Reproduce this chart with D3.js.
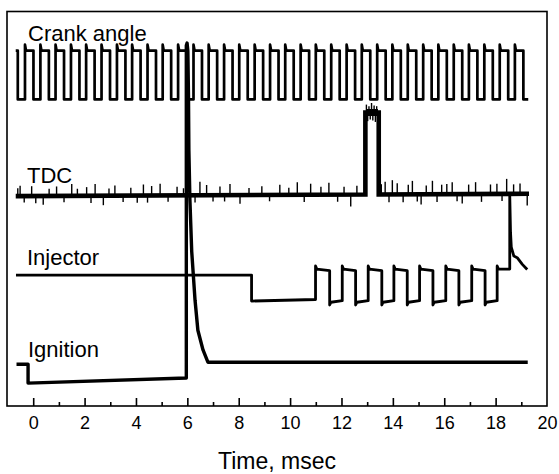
<!DOCTYPE html>
<html>
<head>
<meta charset="utf-8">
<script src="https://cdn.jsdelivr.net/npm/d3@7"></script>
<style>
  html, body { margin: 0; padding: 0; background: #fff; }
  svg { display: block; }
  text { font-family: "Liberation Sans", Arial, Helvetica, sans-serif; fill: #000; }
</style>
</head>
<body>
<script>
// ---------------- data (time in msec, signal level in arbitrary units 0..100) ----------------
const xTicksMajor = [0, 2, 4, 6, 8, 10, 12, 14, 16, 18, 20];
const xTicksMinor = [1, 3, 5, 7, 9, 11, 13, 15, 17, 19];
const seriesLabels = ["Crank angle", "TDC", "Injector", "Ignition"];
const xTitle = "Time, msec";

// Crank angle square wave
const crankStart = -0.68, crankFirstFall = -0.60, crankEnd = 19.27;
const crankHigh = 90.1, crankLow = 77.7, crankOver = 91.6;
const crankRise = [-0.32, 0.28, 0.87, 1.47, 2.06, 2.66, 3.26, 3.85, 4.45, 5.04, 5.64, 6.24,
  6.83, 7.43, 8.02, 8.62, 9.22, 9.81, 10.41, 11.00, 11.60, 12.20, 12.79, 13.39, 13.98,
  14.58, 15.18, 15.77, 16.37, 16.96, 17.56, 18.16, 18.75];
const crankFall = [0.01, 0.61, 1.20, 1.80, 2.39, 2.99, 3.59, 4.18, 4.78, 5.37, 5.97, 6.57,
  7.16, 7.76, 8.35, 8.95, 9.55, 10.14, 10.74, 11.33, 11.93, 12.53, 13.12, 13.72, 14.31,
  14.91, 15.51, 16.10, 16.70, 17.29, 17.89, 18.49, 19.08];

// TDC
const tdcStart = -0.68, tdcEnd = 19.3;
const tdcBaseLeft = 53.2, tdcBaseRight = 53.8;
const tdcPulseRise = 12.93, tdcPulseFall = 13.45, tdcPulseLevel = 74.4;
const tdcSpikeT = [-0.60, -0.51, -0.35, -0.06, 0.10, 0.39, 0.62, 0.91, 1.20, 1.50, 1.72, 2.08,
  2.25, 2.41, 2.73, 2.95, 3.18, 3.50, 3.80, 4.05, 4.29, 4.45, 4.61, 4.94, 5.25, 5.60, 5.85,
  6.30, 6.49, 6.75, 7.00, 7.27, 7.45, 7.66, 8.05, 8.40, 8.90, 9.20, 9.60, 9.95, 10.28, 10.55,
  10.80, 11.20, 11.51, 11.85, 12.10, 12.36, 12.60, 13.55, 13.70, 13.85, 13.98, 14.17, 14.40,
  14.60, 14.76, 14.95, 15.10, 15.30, 15.54, 15.72, 15.90, 16.10, 16.31, 16.50, 16.70, 16.95,
  17.22, 17.45, 17.80, 18.05, 18.25, 18.43, 18.70, 18.95, 19.23];
const tdcSpikeV = [2.0, 2.6, -1.6, 2.5, -1.8, -2.2, 1.8, 2.4, -1.6, 3.0, 1.8, 2.2,
  -1.8, 3.0, -2.4, 1.8, 2.6, -1.6, 2.0, -1.8, 2.8, -1.8, 2.4, 3.0, -1.6, 2.2, 1.8,
  -1.8, 3.4, 2.6, -1.6, 2.2, -1.6, 2.8, -2.2, 1.8, 2.2, -1.6, 2.6, 1.8, 3.2, -1.8,
  2.8, 2.0, 3.0, -1.8, 2.0, -3.0, 2.2, 2.6, 3.2, -2.0, 3.6, 2.8, -2.0,
  2.4, 3.4, -1.8, -2.6, 2.2, 3.4, -2.0, 2.4, 2.6, 3.0, -1.8, -2.4, 2.4,
  3.0, -2.0, 2.4, 2.6, -1.8, 3.8, 2.4, 2.6, -3.0];
const tdcPulseNoiseT = [12.97, 13.02, 13.07, 13.12, 13.17, 13.22, 13.27, 13.32, 13.37, 13.42];
const tdcPulseNoiseV = [2.0, -2.2, 1.6, -1.8, 2.4, -2.0, 1.8, -2.4, 1.6, -1.6];

// Injector
const injStart = -0.67;
const injIdle = 33.2, injDropT = 8.50, injDropLevel = 26.6;
const injHigh = 34.7, injLow = 26.3;
const injRise = [10.99, 12.03, 13.04, 14.04, 15.04, 16.06, 17.07, 18.06];
const injFall = [11.54, 12.55, 13.57, 14.56, 15.56, 16.57, 17.59];
const injSpikeT = 18.55, injSpikePeak = 53.4;
const injTailT = [18.58, 18.61, 18.71, 18.84, 19.04, 19.23];
const injTailV = [44.0, 40.3, 38.0, 37.6, 35.9, 34.6];

// Ignition
const ignStart = -0.65, ignStartLevel = 10.6, ignFallT = -0.20;
const ignLowStart = 5.8, ignLowEnd = 7.1, ignRiseT = 5.96;
const ignPeakT = [5.96, 5.99, 6.02, 6.045, 6.06, 6.10, 6.17, 6.30, 6.41, 6.61, 6.80];
const ignPeakV = [91.4, 92.0, 90.0, 78.2, 64.8, 52.2, 39.2, 26.8, 19.2, 14.2, 11.1];
const ignHigh = 11.1, ignEnd = 19.25;

// ---------------- chart ----------------
const W = 559, H = 474;
const box = { left: 7, right: 547, top: 11.5, bottom: 406 };

const svg = d3.select("body").append("svg").attr("width", W).attr("height", H);
svg.append("rect").attr("width", W).attr("height", H).attr("fill", "#fff");

const x = d3.scaleLinear().domain([-1.02, 20]).range([box.left, box.right]);
const y = d3.scaleLinear().domain([0, 100]).range([box.bottom, box.top]);
const line = d3.line().x(d => x(d[0])).y(d => y(d[1]));

// crank points
const crankPts = [[crankStart, crankHigh], [crankFirstFall, crankHigh], [crankFirstFall, crankLow]];
crankRise.forEach((r, i) => {
  crankPts.push([r, crankLow], [r, crankOver], [r + 0.04, crankHigh],
    [crankFall[i], crankHigh], [crankFall[i], crankLow]);
});
crankPts.push([crankEnd, crankLow]);

// TDC points
const tdcBase = t => tdcBaseLeft + (tdcBaseRight - tdcBaseLeft) * (t - tdcStart) / (tdcEnd - tdcStart);
const tdcPts = [[tdcStart, tdcBase(tdcStart)],
  [tdcPulseRise, tdcBase(tdcPulseRise)], [tdcPulseRise, tdcPulseLevel],
  [tdcPulseFall, tdcPulseLevel], [tdcPulseFall, tdcBase(tdcPulseFall)],
  [tdcEnd, tdcBase(tdcEnd)]];
const tdcSpikes = tdcSpikeT.map((t, i) => ({ t, base: tdcBase(t), v: tdcSpikeV[i] }));
const pulseNoise = tdcPulseNoiseT.map((t, i) => ({ t, base: tdcPulseLevel, v: tdcPulseNoiseV[i] }));

// injector points
const injPts = [[injStart, injIdle], [injDropT, injIdle], [injDropT, injDropLevel], [injRise[0], injDropLevel + 0.4]];
injRise.forEach((r, i) => {
  const prevLow = injPts[injPts.length - 1][1];
  injPts.push([r, prevLow], [r, injHigh + 0.8], [r + 0.05, injHigh]);
  if (i < injFall.length) {
    injPts.push([injFall[i], injHigh - 0.4], [injFall[i], injLow - 0.7], [injFall[i] + 0.05, injLow], [injRise[i + 1], injLow + 0.4]);
  }
});
injPts.push([injSpikeT, injHigh], [injSpikeT, injSpikePeak]);
injTailT.forEach((t, i) => injPts.push([t, injTailV[i]]));

// ignition points
const ignPts = [[ignStart, ignStartLevel], [ignFallT, ignStartLevel], [ignFallT, ignLowStart],
  [ignRiseT, ignLowEnd]];
ignPeakT.forEach((t, i) => ignPts.push([t, ignPeakV[i]]));
ignPts.push([ignEnd, ignHigh]);

const g = svg.append("g");
g.append("path").datum(ignPts).attr("d", line).attr("fill", "none").attr("stroke", "#000")
  .attr("stroke-width", 3.4).attr("stroke-linejoin", "round");
g.append("path").datum(crankPts).attr("d", line).attr("fill", "none").attr("stroke", "#000")
  .attr("stroke-width", 2.7).attr("stroke-linejoin", "round");
g.append("path").datum(tdcPts).attr("d", line).attr("fill", "none").attr("stroke", "#000")
  .attr("stroke-width", 4.6).attr("stroke-linejoin", "miter");
// thick noisy top of TDC pulse
g.append("path").datum([[tdcPulseRise + 0.03, tdcPulseLevel], [tdcPulseFall - 0.03, tdcPulseLevel]])
  .attr("d", line).attr("fill", "none").attr("stroke", "#000").attr("stroke-width", 7);
g.selectAll("line.spk").data(tdcSpikes.concat(pulseNoise)).join("line").attr("class", "spk")
  .attr("x1", d => x(d.t)).attr("x2", d => x(d.t))
  .attr("y1", d => y(d.base)).attr("y2", d => y(d.base + d.v))
  .attr("stroke", "#000").attr("stroke-width", 1.4);
g.append("path").datum(injPts).attr("d", line).attr("fill", "none").attr("stroke", "#000")
  .attr("stroke-width", 2.8).attr("stroke-linejoin", "round");

// frame
svg.append("rect").attr("x", box.left).attr("y", box.top)
  .attr("width", box.right - box.left).attr("height", box.bottom - box.top)
  .attr("fill", "none").attr("stroke", "#000").attr("stroke-width", 1.6);

// ticks (inside, pointing up)
const axisMajor = d3.axisBottom(x).tickValues(xTicksMajor).tickSizeInner(-8).tickSizeOuter(0)
  .tickPadding(15).tickFormat(d3.format("d"));
const ax = svg.append("g").attr("transform", `translate(0,${box.bottom})`).call(axisMajor);
ax.select(".domain").remove();
ax.selectAll(".tick line").attr("stroke", "#000").attr("stroke-width", 1.6);
ax.selectAll(".tick text").attr("font-size", 18).attr("dy", 0).attr("y", 23)
  .style("font-family", '"Liberation Sans", Arial, sans-serif');
ax.selectAll(".tick").filter(d => d === 20).select("line").remove();

const axisMinor = d3.axisBottom(x).tickValues(xTicksMinor).tickSizeInner(-4).tickSizeOuter(0).tickFormat("");
const axm = svg.append("g").attr("transform", `translate(0,${box.bottom})`).call(axisMinor);
axm.select(".domain").remove();
axm.selectAll(".tick line").attr("stroke", "#000").attr("stroke-width", 1.6);

// axis title
svg.append("text").attr("x", (box.left + box.right) / 2).attr("y", 469)
  .attr("text-anchor", "middle").attr("font-size", 23).text(xTitle);

// series labels
const labelPos = [[28, 41], [27, 183], [27, 265], [28, 357]];
seriesLabels.forEach((s, i) => {
  svg.append("text").attr("x", labelPos[i][0]).attr("y", labelPos[i][1])
    .attr("font-size", 22).text(s);
});
</script>
</body>
</html>
